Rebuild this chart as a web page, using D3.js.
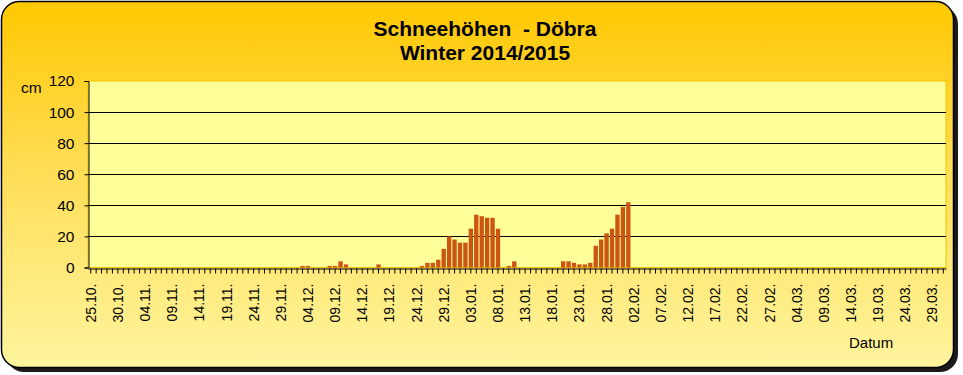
<!DOCTYPE html>
<html><head><meta charset="utf-8">
<script src="https://cdn.jsdelivr.net/npm/d3@7"></script>
<style>html,body{margin:0;padding:0;background:#fff;}svg{display:block;font-family:"Liberation Sans",Arial,sans-serif;}</style>
</head><body>
<script>
// Data
const startDate = new Date(2014, 9, 25);
const dayCount = 158; // 25.10.2014 - 31.03.2015
// snow depth (cm) for non-zero days, keyed by day index from 25.10.
const snowDayIdx = [39,40,44,45,46,47,53,61,62,63,64,65,66,67,68,69,70,71,72,73,74,75,77,78,87,88,89,90,91,92,93,94,95,96,97,98,99];
const snowValues = [1,1,1,1,4,2,2,1,3,3,5,12,20,18,16,16,25,34,33,32,32,25,1,4,4,4,3,2,2,3,14,18,22,25,34,39,42];
const yTicks = [0,20,40,60,80,100,120];
const title1 = "Schneehöhen  - Döbra";
const title2 = "Winter 2014/2015";

const fmt = d3.timeFormat("%d.%m.");
const days = d3.range(dayCount).map(i => {const d = new Date(startDate); d.setDate(d.getDate()+i); return d;});
const cats = days.map(fmt);
const values = days.map(() => 0);
snowDayIdx.forEach((k,i) => values[k] = snowValues[i]);

const W = 963, H = 375;
const svg = d3.select("body").append("svg").attr("width", W).attr("height", H);
const defs = svg.append("defs");
const g1 = defs.append("linearGradient").attr("id","bg").attr("x1",0).attr("y1",0).attr("x2",0).attr("y2",1);
g1.append("stop").attr("offset","0%").attr("stop-color","#FFC800");
g1.append("stop").attr("offset","45%").attr("stop-color","#FFDD55");
g1.append("stop").attr("offset","100%").attr("stop-color","#FFF59E");

// shadow
svg.append("rect").attr("x",6).attr("y",6).attr("width",952).attr("height",366).attr("rx",18).attr("fill","#1a1a1a");
svg.append("rect").attr("x",1.5).attr("y",1.5).attr("width",952).attr("height",366).attr("rx",18)
  .attr("fill","url(#bg)").attr("stroke","#000").attr("stroke-width",1.5);

const m = {l:88, r:946, t:81, b:267.5};
const xs = d3.scaleBand().domain(cats).range([m.l, m.r]);
const y = d3.scaleLinear().domain([0,120]).range([m.b, m.t]);

svg.append("rect").attr("x",m.l).attr("y",m.t).attr("width",m.r-m.l).attr("height",m.b-m.t)
  .attr("fill","#FFFF99").attr("stroke","#F2C200").attr("stroke-width",1);

// gridlines
svg.append("g").selectAll("line").data(yTicks.filter(t=>t>0 && t<120)).join("line")
  .attr("x1",m.l).attr("x2",m.r).attr("y1",d=>Math.round(y(d))+0.5).attr("y2",d=>Math.round(y(d))+0.5)
  .attr("stroke","#000").attr("stroke-width",1);

// bars
svg.append("g").selectAll("rect").data(cats.map((c,i)=>({c,v:values[i]})).filter(d=>d.v>0)).join("rect")
  .attr("x",d=>xs(d.c)+xs.bandwidth()*0.1).attr("width",xs.bandwidth()*0.8)
  .attr("y",d=>y(d.v)).attr("height",d=>y(0)-y(d.v)).attr("fill","#CC5511");

// y axis
const ya = svg.append("g").attr("transform",`translate(${m.l+0.5},0)`)
  .call(d3.axisLeft(y).tickValues(yTicks).tickSize(4).tickPadding(10));
ya.selectAll("text").attr("font-size",15.5).attr("fill","#000").attr("font-family","Liberation Sans, Arial, sans-serif");
ya.select(".domain").attr("stroke","#000");
ya.selectAll(".tick line").attr("stroke","#000");

// x axis
const xa = svg.append("g").attr("transform",`translate(0,${Math.round(m.b)+0.5})`)
  .call(d3.axisBottom(xs).tickSize(5).tickSizeOuter(0).tickFormat((d,i)=> i%5===0 ? d : ""));
xa.select(".domain").attr("stroke","#000");
xa.selectAll(".tick line").attr("stroke","#000");
xa.selectAll("text").attr("font-size",14).attr("fill","#000").attr("font-family","Liberation Sans, Arial, sans-serif")
  .attr("transform","rotate(-90)").attr("text-anchor","end").attr("dy","0.36em").attr("x",-15).attr("y",0);

svg.append("text").attr("x",485).attr("y",36).attr("text-anchor","middle").attr("font-weight","bold").attr("font-size",21).style("white-space","pre").text(title1);
svg.append("text").attr("x",485).attr("y",60).attr("text-anchor","middle").attr("font-weight","bold").attr("font-size",21).text(title2);
svg.append("text").attr("x",21).attr("y",93).attr("font-size",15.5).text("cm");
svg.append("text").attr("x",849).attr("y",348).attr("font-size",15).text("Datum");
</script>
</body></html>
